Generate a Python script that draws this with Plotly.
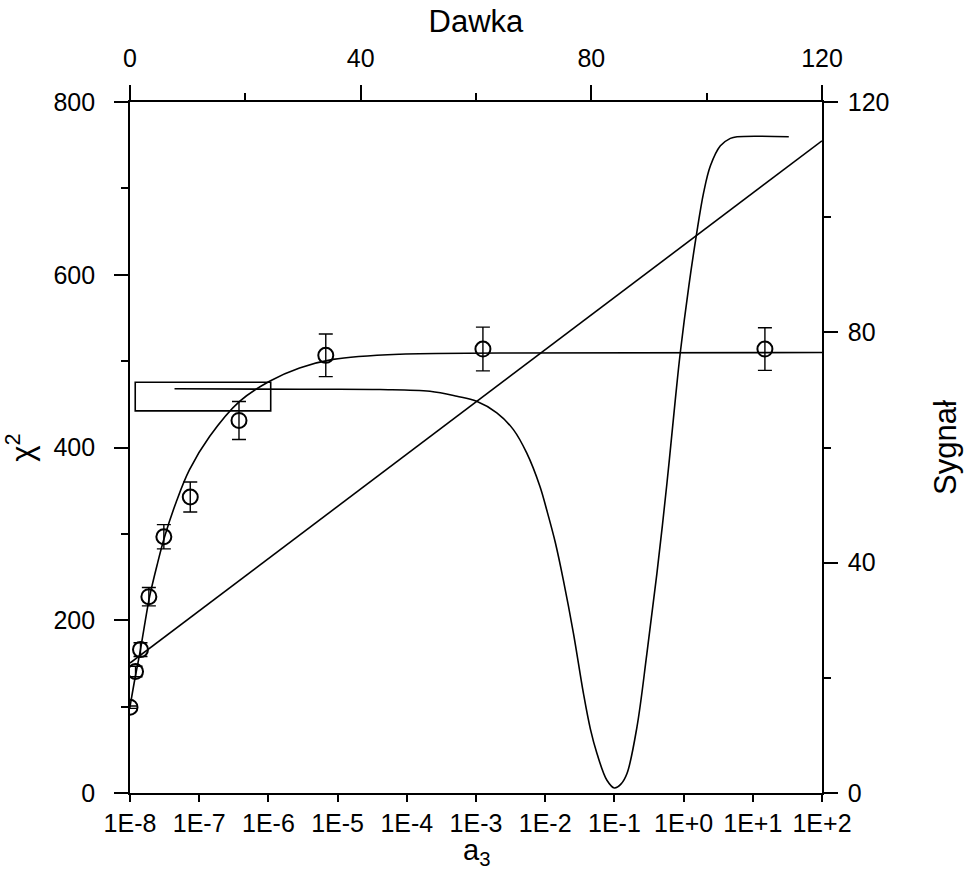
import plotly.graph_objects as go

# ---------------- data ----------------
# measured points (Dawka vs Sygnal, top/right axes)
dawka_pts = [0, 0.96, 1.82, 3.27, 5.87, 10.45, 18.9, 33.95, 61.2, 110.1]
sygnal_pts = [14.9, 21.1, 24.9, 34.1, 44.5, 51.4, 64.7, 76.0, 77.1, 77.1]
sygnal_err = [0.2, 0.9, 1.2, 1.6, 2.1, 2.6, 3.3, 3.7, 3.8, 3.7]

# saturation fit curve (Dawka vs Sygnal)
fit_dawka = [0, 0.9, 1.8, 2.6, 3.4, 4.7, 6.0, 8.0, 10.3, 13.8, 19.0, 24.2, 29.4,
             35.2, 46.8, 64.2, 120]
fit_sygnal = [15.0, 20.1, 24.8, 29.6, 34.1, 39.6, 44.5, 50.5, 56.1, 61.9, 68.0,
              71.5, 73.8, 75.3, 76.2, 76.4, 76.5]

# chi^2 profile vs a3 (bottom/left axes)
prof_a3 = [4.4e-8, 2.8e-6, 4.1e-5, 2.16e-4, 5.3e-4, 1.02e-3, 2.0e-3, 3.47e-3, 5.4e-3,
           8.4e-3, 1.05e-2, 1.4e-2, 1.83e-2, 2.56e-2, 3.57e-2, 4.5e-2, 5.6e-2, 7.8e-2,
           0.1, 0.125, 0.152, 0.212, 0.295, 0.412, 0.575, 0.759, 0.895, 1.19, 1.53,
           1.95, 2.44, 3.40, 4.74, 5.93, 33.1]
prof_chi2 = [468.0, 467.4, 467.1, 465.1, 459.3, 453.5, 440.1, 420.7, 393.7,
             354.9, 327.9, 290.0, 246.5, 184.9, 115.3, 74.0, 45.7, 14.7,
             5.8, 10.5, 22.5, 76.6, 161.7, 254.5, 358.9, 455.5, 509.7, 586.9, 645.8,
             695.3, 726.1, 749.3, 757.9, 759.8, 759.8]

# straight line (bottom/left axes)
line_a3 = [1e-8, 1e2]
line_chi2 = [150.4, 755.1]

# empty legend frame (a3, chi2 corners)
frame_a3 = [1.19e-8, 1.08e-6]
frame_chi2 = [442.4, 475.6]

# tick labels
a3_ticks = [1e-8, 1e-7, 1e-6, 1e-5, 1e-4, 1e-3, 1e-2, 1e-1, 1e0, 1e1, 1e2]
a3_labels = ["1E-8", "1E-7", "1E-6", "1E-5", "1E-4", "1E-3", "1E-2", "1E-1",
             "1E+0", "1E+1", "1E+2"]
a3_minor = [m * t for t in a3_ticks[:-1] for m in range(2, 10)]

FONT = "Liberation Sans, Arial, sans-serif"
LW = 1.6

fig = go.Figure()

fig.add_trace(go.Scatter(x=line_a3, y=line_chi2, mode="lines",
                         line=dict(color="black", width=LW),
                         xaxis="x", yaxis="y", showlegend=False))
fig.add_trace(go.Scatter(x=prof_a3, y=prof_chi2, mode="lines",
                         line=dict(color="black", width=LW, shape="spline", smoothing=1.0),
                         xaxis="x", yaxis="y", showlegend=False))
fig.add_trace(go.Scatter(x=fit_dawka, y=fit_sygnal, mode="lines",
                         line=dict(color="black", width=LW, shape="spline", smoothing=1.0),
                         xaxis="x2", yaxis="y2", showlegend=False))
fig.add_trace(go.Scatter(x=dawka_pts, y=sygnal_pts, mode="markers",
                         marker=dict(symbol="circle-open", size=15,
                                     color="black", line=dict(color="black", width=2)),
                         error_y=dict(type="data", array=sygnal_err, color="black",
                                      thickness=1.4, width=7),
                         xaxis="x2", yaxis="y2", showlegend=False))

fig.add_shape(type="rect", xref="x", yref="y",
              x0=frame_a3[0], x1=frame_a3[1], y0=frame_chi2[0], y1=frame_chi2[1],
              line=dict(color="black", width=LW), fillcolor="rgba(0,0,0,0)")

# bottom axis title as annotation for finer vertical placement
fig.add_annotation(text="a<sub>3</sub>", xref="paper", yref="paper", x=0.5, y=-0.085,
                   yanchor="middle", xanchor="center", showarrow=False,
                   font=dict(family=FONT, size=29, color="black"))

tickfont = dict(family=FONT, size=25, color="black")
titlefont = dict(family=FONT, size=31, color="black")

fig.update_layout(
    width=975, height=872,
    margin=dict(l=130, r=153, t=102, b=79, autoexpand=False),
    paper_bgcolor="white", plot_bgcolor="white",
    showlegend=False,
    xaxis=dict(type="log", range=[-8, 2], tickvals=a3_ticks, ticktext=a3_labels,
               ticks="outside", ticklen=7, tickwidth=LW, tickcolor="black",
               showline=True, linecolor="black", linewidth=LW, showgrid=False,
               zeroline=False, tickfont=tickfont, ticklabelstandoff=0,
               anchor="y", automargin=False),
    xaxis3=dict(type="log", range=[-8, 2], tickvals=a3_minor, ticks="outside",
                ticklen=4, tickwidth=1.2, tickcolor="black", showticklabels=False,
                showline=False, showgrid=False, zeroline=False,
                overlaying="x", anchor="y", side="bottom", automargin=False),
    yaxis=dict(range=[0, 800], tickvals=[0, 200, 400, 600, 800],
               ticks="outside", ticklen=14, tickwidth=LW, tickcolor="black",
               minor=dict(tickvals=[100, 300, 500, 700], ticks="outside", ticklen=7,
                          tickwidth=LW, tickcolor="black", showgrid=False),
               showline=True, linecolor="black", linewidth=LW, showgrid=False,
               zeroline=False, tickfont=tickfont, ticklabelstandoff=14,
               title=dict(text="χ<sup>2</sup>", font=titlefont, standoff=12),
               anchor="x", automargin=False),
    xaxis2=dict(range=[0, 120], tickvals=[0, 40, 80, 120],
                ticks="outside", ticklen=15, tickwidth=LW, tickcolor="black",
                minor=dict(tickvals=[20, 60, 100], ticks="outside", ticklen=7,
                           tickwidth=LW, tickcolor="black", showgrid=False),
                showline=True, linecolor="black", linewidth=LW, showgrid=False,
                zeroline=False, tickfont=tickfont, ticklabelstandoff=8,
                title=dict(text="Dawka", font=titlefont, standoff=2),
                overlaying="x", side="top", anchor="y", automargin=False),
    yaxis2=dict(range=[0, 120], tickvals=[0, 40, 80, 120],
                ticks="outside", ticklen=14, tickwidth=LW, tickcolor="black",
                minor=dict(tickvals=[20, 60, 100], ticks="outside", ticklen=7,
                           tickwidth=LW, tickcolor="black", showgrid=False),
                showline=True, linecolor="black", linewidth=LW, showgrid=False,
                zeroline=False, tickfont=tickfont, ticklabelstandoff=5,
                title=dict(text="Sygnał", font=titlefont, standoff=46),
                overlaying="y", side="right", anchor="x", automargin=False),
)

fig.write_html("out.html", config={"displayModeBar": False},
               post_script="document.body.style.margin='0px';")
